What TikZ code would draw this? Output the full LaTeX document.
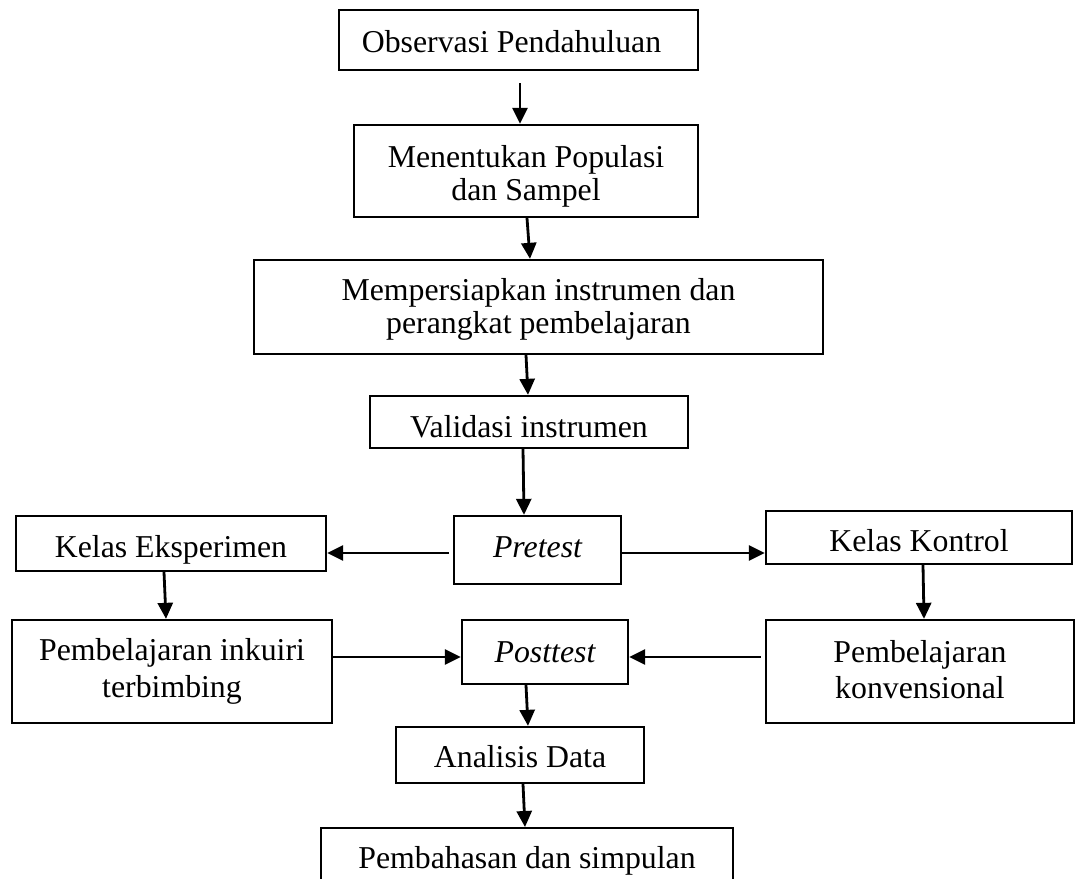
\documentclass[tikz,border=0pt]{standalone}
\usepackage{fontspec}
\setmainfont{Liberation Serif}
\usetikzlibrary{arrows.meta}
\newcommand{\twoline}[4]{\raisebox{#4}[0pt][0pt]{\fontsize{31.8}{#3}\selectfont\begin{tabular}[t]{@{}c@{}}#1\\#2\end{tabular}}}
\begin{document}
\begin{tikzpicture}[x=1pt,y=-1pt,
  box/.style={draw, line width=2.3pt, inner sep=0pt, font=\fontsize{31.8}{36}\selectfont},
  one/.style={text height=#1, text depth=0pt},
  arr/.style={line width=2.8pt, -{Triangle[length=16pt,width=15pt]}}]
\clip (0,0) rectangle (1075,878);
\fill[white] (0,0) rectangle (1075,878);
\node[box, one=24pt, minimum width=359pt, minimum height=60pt] (obs) at (518.5,40) {\hspace*{-14pt}Observasi Pendahuluan};
\node[box, minimum width=344pt, minimum height=92pt] (men) at (526,171) {\twoline{Menentukan Populasi}{dan Sampel}{33pt}{4pt}};
\node[box, minimum width=569pt, minimum height=94pt] (prep) at (538.5,307) {\twoline{Mempersiapkan instrumen dan}{perangkat pembelajaran}{33pt}{7pt}};
\node[box, one=30pt, minimum width=318pt, minimum height=52pt] (val) at (529,422) {Validasi instrumen};
\node[box, one=14pt, minimum width=167pt, minimum height=68pt] (pre) at (537.5,550) {\itshape Pretest};
\node[box, one=27pt, minimum width=310pt, minimum height=55pt] (kex) at (171,543.5) {Kelas Eksperimen};
\node[box, one=27pt, minimum width=306pt, minimum height=53pt] (kk) at (919,537.5) {Kelas Kontrol};
\node[box, minimum width=320pt, minimum height=103pt] (inq) at (172,671.5) {\twoline{Pembelajaran inkuiri}{terbimbing}{37pt}{11.5pt}};
\node[box, one=20pt, minimum width=166pt, minimum height=64pt] (post) at (545,652) {\itshape Posttest};
\node[box, minimum width=308pt, minimum height=103pt] (konv) at (920,671.5) {\twoline{Pembelajaran}{konvensional}{36pt}{9.5pt}};
\node[box, one=24pt, minimum width=248pt, minimum height=56pt] (ana) at (520,755) {Analisis Data};
\node[box, one=15pt, minimum width=412pt, minimum height=65pt, anchor=north] (pem) at (527,827) {Pembahasan dan simpulan};
\draw[arr] ([xshift=1.5pt,yshift=-12pt]obs.south) -- ([xshift=-6pt]men.north);
\draw[arr] ([xshift=1pt]men.south) -- ([xshift=-8.5pt]prep.north);
\draw[arr] ([xshift=-12.5pt]prep.south) -- ([xshift=-1pt]val.north);
\draw[arr] ([xshift=-6pt]val.south) -- ([xshift=-13.5pt]pre.north);
\draw[arr] ([xshift=-4pt,yshift=-3pt]pre.west) -- ([yshift=-9.5pt]kex.east);
\draw[arr] ([yshift=-3pt]pre.east) -- ([yshift=-15.5pt]kk.west);
\draw[arr] ([xshift=-7pt]kex.south) -- ([xshift=-6pt]inq.north);
\draw[arr] ([xshift=4pt]kk.south) -- ([xshift=4pt]konv.north);
\draw[arr] ([yshift=14.5pt]inq.east) -- ([yshift=-5pt]post.west);
\draw[arr] ([xshift=-4pt,yshift=14.5pt]konv.west) -- ([yshift=-5pt]post.east);
\draw[arr] ([xshift=-19pt]post.south) -- ([xshift=8pt]ana.north);
\draw[arr] ([xshift=3pt]ana.south) -- ([xshift=-2pt]pem.north);
\end{tikzpicture}
\end{document}
